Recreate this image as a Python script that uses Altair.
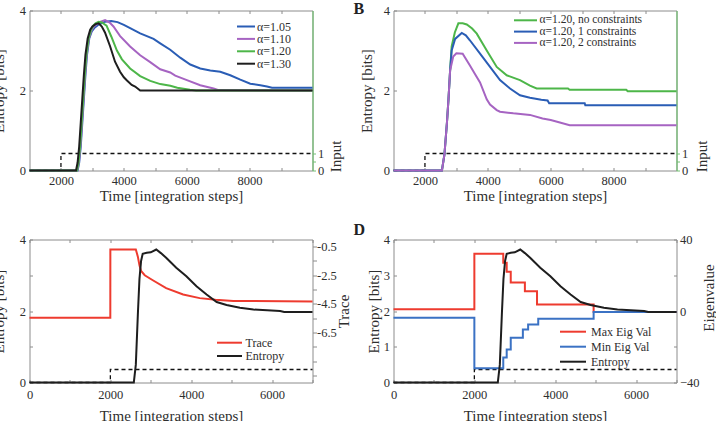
import altair as alt
import pandas as pd

FONT = "Liberation Serif"
TXT = "#2e2e2e"
FRAME = "#8c8c8c"
GREEN_AX = "#72c072"

W = 283
HT = 160
HB = 143

# ---------------- Panel A ----------------
A_names = ["α=1.05", "α=1.10", "α=1.20", "α=1.30"]
A_colors = ["#2a5db5", "#a664c2", "#4db649", "#1e1e1e"]
A_t_105 = [1000, 2530, 2580, 2630, 2680, 2730, 2780, 2830, 2900, 2980, 3060, 3200, 3400, 3600, 3800, 4000, 4200,
           4520, 4945, 5157, 5475, 5794, 6113, 6430, 6749, 7067, 7385, 7704, 8022, 8341, 8553, 8712, 10000]
A_e_105 = [0, 0, 0.2, 0.6, 1.2, 1.8, 2.4, 2.9, 3.3, 3.48, 3.56, 3.65, 3.72, 3.74, 3.71, 3.64, 3.56,
           3.43, 3.29, 3.18, 3.02, 2.82, 2.65, 2.55, 2.5, 2.47, 2.38, 2.27, 2.17, 2.13, 2.1, 2.07, 2.07]
A_t_110 = [1000, 2520, 2570, 2620, 2670, 2720, 2770, 2820, 2890, 2970, 3050, 3200, 3405, 3550, 3670, 3882, 4200,
           4520, 4838, 5157, 5475, 5635, 6006, 6430, 6855, 7014, 10000]
A_e_110 = [0, 0, 0.2, 0.6, 1.2, 1.8, 2.4, 2.9, 3.3, 3.5, 3.6, 3.7, 3.76, 3.7, 3.6, 3.36, 3.1,
           2.88, 2.71, 2.53, 2.45, 2.37, 2.26, 2.13, 2.05, 2.01, 2.0]
A_t_120 = [1000, 2510, 2560, 2610, 2660, 2710, 2760, 2810, 2880, 2960, 3030, 3100, 3200, 3300, 3450, 3600, 3780,
           3940, 4200, 4520, 4840, 5160, 5480, 5700, 6100, 6300, 10000]
A_e_120 = [0, 0, 0.2, 0.6, 1.2, 1.8, 2.4, 2.9, 3.3, 3.52, 3.62, 3.68, 3.72, 3.7, 3.62, 3.35, 3.0,
           2.78, 2.55, 2.36, 2.24, 2.16, 2.12, 2.07, 2.02, 2.0, 2.0]
A_t_130 = [1000, 2480, 2530, 2580, 2630, 2680, 2730, 2780, 2850, 2930, 3000, 3100, 3200, 3300, 3400, 3565, 3720,
           3880, 4000, 4100, 4250, 4360, 4520, 10000]
A_e_130 = [0, 0, 0.2, 0.6, 1.2, 1.8, 2.4, 2.9, 3.3, 3.52, 3.6, 3.66, 3.68, 3.6, 3.45, 3.1, 2.72,
           2.47, 2.33, 2.25, 2.14, 2.1, 2.0, 2.0]

# ---------------- Panel B ----------------
B_names = ["α=1.20, no constraints", "α=1.20, 1 constraints", "α=1.20, 2 constraints"]
B_colors = ["#4db649", "#2a5db5", "#a664c2"]
B_t_0 = [1000, 2540, 2620, 2700, 2750, 2800, 2850, 2950, 3063, 3200, 3330, 3500, 3648, 3965, 4283, 4600, 5022,
         5340, 5552, 6550, 6600, 8400, 8450, 10000]
B_e_0 = [0, 0, 0.4, 1.2, 1.8, 2.5, 3.1, 3.45, 3.68, 3.68, 3.65, 3.55, 3.42, 3.0, 2.59, 2.38, 2.26,
         2.12, 2.05, 2.05, 2.02, 2.02, 1.98, 1.98]
B_t_1 = [1000, 2540, 2620, 2700, 2750, 2800, 2850, 2959, 3171, 3300, 3435, 3752, 4070, 4387, 4705, 5022, 5340,
         5700, 5900, 5950, 7080, 7100, 10000]
B_e_1 = [0, 0, 0.4, 1.2, 1.8, 2.5, 3.0, 3.29, 3.44, 3.38, 3.25, 2.92, 2.59, 2.26, 2.05, 1.88, 1.82,
         1.77, 1.75, 1.68, 1.68, 1.63, 1.63]
B_t_2 = [1000, 2540, 2620, 2700, 2750, 2800, 2900, 3000, 3200, 3435, 3600, 3752, 3965, 4070, 4283, 4387, 4810,
         5340, 5740, 6000, 6290, 6603, 10000]
B_e_2 = [0, 0, 0.4, 1.2, 1.8, 2.5, 2.85, 2.93, 2.92, 2.62, 2.4, 2.2, 1.78, 1.65, 1.51, 1.47, 1.43,
         1.39, 1.3, 1.26, 1.2, 1.13, 1.13]

# input signal (panels A, B)
IN_AB_t = [1000, 2000, 10000]
IN_AB_v = [0, 1, 1]

# ---------------- Panels C and D ----------------
ENT_t = [0, 2580, 2630, 2680, 2720, 2760, 2800, 2900, 3000, 3135, 3250, 3380, 3630, 3880, 4130, 4380, 4630,
         4875, 5205, 5540, 6200, 6300, 7000]
ENT_e = [0, 0, 0.5, 1.9, 2.9, 3.4, 3.6, 3.63, 3.64, 3.72, 3.62, 3.49, 3.21, 2.97, 2.69, 2.46, 2.25,
         2.17, 2.09, 2.04, 2.0, 1.97, 1.97]
TR_t = [0, 1999, 2000, 2630, 2680, 2720, 2760, 2850, 3050, 3380, 3800, 4210, 4600, 5040, 7000]
TR_v = [-5.48, -5.48, -0.7, -0.7, -1.2, -1.8, -2.2, -2.5, -2.85, -3.4, -3.85, -4.1, -4.22, -4.3, -4.33]
IN_CD_t = [0, 2000, 7000]
IN_CD_v = [0, 1, 1]

EMAX_t = [0, 2000, 2715, 2800, 2900, 3250, 3550, 4950, 7000]
EMAX_v = [1, 32, 27, 22, 16, 11, 3.6, -0.5, -0.5]
EMIN_t = [0, 2000, 2715, 2800, 2900, 3200, 3330, 3580, 4950, 7000]
EMIN_v = [-3.8, -32, -26, -21.5, -15, -10.3, -7.5, -4.4, -0.5, -0.5]

C_names = ["Trace", "Entropy"]
C_colors = ["#ee3b2f", "#1e1e1e"]
D_names = ["Max Eig Val", "Min Eig Val", "Entropy"]
D_colors = ["#ee3b2f", "#3b72c4", "#1e1e1e"]

TICKS_AB = [2000, 3000, 4000, 5000, 6000, 7000, 8000, 9000]
TICKS_CD = [0, 1000, 2000, 3000, 4000, 5000, 6000, 7000]
TRACE_TICKS = [-0.5, -1.5, -2.5, -3.5, -4.5, -5.5, -6.5, -7.5, -8.5, -9.5]
TRACE_LABELS = [-0.5, -2.5, -4.5, -6.5]


def long_df(ts, vs, names):
    rows = []
    for t, v, n in zip(ts, vs, names):
        for i, (a, b) in enumerate(zip(t, v)):
            rows.append({"t": a, "v": b, "series": n, "i": i})
    return pd.DataFrame(rows)


def legend_layers(names, colors, x0, x1, xt, yc0, sp, fs):
    d = pd.DataFrame({"label": names, "row": list(range(len(names)))})
    ys = alt.Scale(domain=[0, 1], range=[yc0, yc0 + sp])
    rule = alt.Chart(d).mark_rule(strokeWidth=2).encode(
        x=alt.value(x0), x2=alt.value(x1),
        y=alt.Y("row:Q", scale=ys, axis=None),
        color=alt.Color("label:N", scale=alt.Scale(domain=names, range=colors), legend=None),
    )
    text = alt.Chart(d).mark_text(align="left", baseline="middle", font=FONT, fontSize=fs,
                                  color=TXT).encode(
        x=alt.value(xt), y=alt.Y("row:Q", scale=ys, axis=None), text="label:N",
    )
    return [rule, text]


def x_bottom(ticks, title_y, pad):
    return alt.Axis(values=ticks, format="d", labelExpr="datum.value % 2000 == 0 ? datum.label : ''",
                    offset=-3, tickSize=3, tickColor=FRAME, domain=False, grid=False, labelPadding=pad,
                    labelFlush=False, labelOverlap=False,
                    title="Time [integration steps]", titleX=W / 2, titleY=title_y, titleBaseline="middle")


def x_top(ticks):
    return alt.Axis(orient="top", values=ticks, labels=False, domain=False, grid=False, offset=-3,
                    tickSize=3, tickColor=FRAME, title=None)


def y_left(values, label_expr, title_x, H):
    return alt.Axis(values=values, labelExpr=label_expr, offset=-3, tickSize=3, tickColor=FRAME,
                    domain=False, grid=False, labelPadding=4, title="Entropy [bits]", titleAngle=270,
                    titleX=title_x, titleY=H / 2, titleBaseline="bottom", labelFlush=False)


def input_axis(title_x, title_y):
    return alt.Axis(orient="right", values=[0, 0.5, 1], format="~g",
                    labelExpr="datum.value == 0.5 ? '' : datum.label", tickSize=3, tickColor=GREEN_AX,
                    domainColor=GREEN_AX, domainWidth=1.2, grid=False, labelPadding=2, labelFlush=False,
                    title="Input", titleAngle=270, titleX=title_x, titleY=title_y, titleBaseline="middle")


def top_panel(ts, vs, names, colors, leg, title_x, in_title_x, domain_x):
    d = long_df(ts, vs, names)
    xs = alt.Scale(domain=domain_x, nice=False, zero=False)
    lines = alt.Chart(d).mark_line(strokeWidth=2).encode(
        x=alt.X("t:Q", scale=xs, axis=x_bottom(TICKS_AB, 28, 4)),
        y=alt.Y("v:Q", scale=alt.Scale(domain=[0, 4], nice=False),
                axis=y_left([0, 2, 4], "datum.label", title_x, HT)),
        color=alt.Color("series:N", scale=alt.Scale(domain=names, range=colors), legend=None),
        order="i:Q",
    )
    din = pd.DataFrame({"t": IN_AB_t, "v": IN_AB_v})
    inp = alt.Chart(din).mark_line(strokeWidth=1.3, strokeDash=[4, 3], color="#111",
                                   interpolate="step-after").encode(
        x=alt.X("t:Q", scale=xs, axis=x_top(TICKS_AB)),
        y=alt.Y("v:Q", scale=alt.Scale(domain=[0, 9.4], nice=False), axis=input_axis(in_title_x, 145.5)),
    )
    return alt.layer(inp, lines, *leg).resolve_scale(y="independent").resolve_axis(
        x="independent", y="independent")


chartA = top_panel([A_t_105, A_t_110, A_t_120, A_t_130], [A_e_105, A_e_110, A_e_120, A_e_130], A_names,
                   A_colors, legend_layers(A_names, A_colors, 207.5, 225.5, 227.5, 16, 12.4, 12),
                   -26, 23, [1000, 10000]).properties(width=W, height=HT)

chartB = top_panel([B_t_0, B_t_1, B_t_2], [B_e_0, B_e_1, B_e_2], B_names, B_colors,
                   legend_layers(B_names, B_colors, 120.5, 143.5, 146, 9.8, 11.3, 11.5),
                   -22, 25, [1000, 10000]).properties(
    width=W, height=HT,
    title=alt.TitleParams("B", anchor="start", frame="group", dx=-40, dy=25, offset=0, baseline="alphabetic",
                          fontSize=16, fontWeight="bold", font=FONT, color="#222"))

# ---------- panel C ----------
xsC = alt.Scale(domain=[0, 7000], nice=False, zero=False)
dent = pd.DataFrame({"t": ENT_t, "v": ENT_e, "series": "Entropy", "i": range(len(ENT_t))})
dtr = pd.DataFrame({"t": TR_t, "v": TR_v, "series": "Trace", "i": range(len(TR_t))})
dinC = pd.DataFrame({"t": IN_CD_t, "v": IN_CD_v})

entC = alt.Chart(dent).mark_line(strokeWidth=2).encode(
    x=alt.X("t:Q", scale=xsC, axis=x_bottom(TICKS_CD, 36, 6)),
    y=alt.Y("v:Q", scale=alt.Scale(domain=[0, 4], nice=False),
            axis=y_left([0, 1, 2, 3, 4], "datum.value % 2 == 0 ? datum.label : ''", -26, HB)),
    color=alt.Color("series:N", scale=alt.Scale(domain=C_names, range=C_colors), legend=None),
    order="i:Q",
)
trC = alt.Chart(dtr).mark_line(strokeWidth=2).encode(
    x=alt.X("t:Q", scale=xsC, axis=None),
    y=alt.Y("v:Q", scale=alt.Scale(domain=[-10, 0], nice=False),
            axis=alt.Axis(orient="right", values=TRACE_TICKS, format=".1f",
                          labelExpr="indexof(%s, datum.value) >= 0 ? replace(datum.label, '\u2212', '-') : ''"
                                    % str(TRACE_LABELS),
                          tickSize=4, tickColor=FRAME, domain=False, grid=False, labelPadding=0,
                          labelFlush=False, title="Trace", titleAngle=270, titleX=31, titleY=HB / 2,
                          titleBaseline="middle")),
    color=alt.Color("series:N", scale=alt.Scale(domain=C_names, range=C_colors), legend=None),
    order="i:Q",
)
inC = alt.Chart(dinC).mark_line(strokeWidth=1.3, strokeDash=[4, 3], color="#111",
                                interpolate="step-after").encode(
    x=alt.X("t:Q", scale=xsC, axis=x_top(TICKS_CD)),
    y=alt.Y("v:Q", scale=alt.Scale(domain=[0, 11], nice=False), axis=None),
)
chartC = alt.layer(inC, trC, entC,
                   *legend_layers(C_names, C_colors, 187.5, 212.5, 216, 103.2, 13.3, 12)).resolve_scale(
    y="independent").resolve_axis(x="independent", y="independent").properties(width=W, height=HB)

# ---------- panel D ----------
deig = long_df([EMAX_t, EMIN_t], [EMAX_v, EMIN_v], ["Max Eig Val", "Min Eig Val"])
dentD = pd.DataFrame({"t": ENT_t, "v": ENT_e, "series": "Entropy", "i": range(len(ENT_t))})

entD = alt.Chart(dentD).mark_line(strokeWidth=2).encode(
    x=alt.X("t:Q", scale=xsC, axis=x_bottom(TICKS_CD, 36, 6)),
    y=alt.Y("v:Q", scale=alt.Scale(domain=[0, 4], nice=False),
            axis=y_left([0, 1, 2, 3, 4], "datum.label", -15, HB)),
    color=alt.Color("series:N", scale=alt.Scale(domain=D_names, range=D_colors), legend=None),
    order="i:Q",
)
eigD = alt.Chart(deig).mark_line(strokeWidth=2, interpolate="step-after").encode(
    x=alt.X("t:Q", scale=xsC, axis=None),
    y=alt.Y("v:Q", scale=alt.Scale(domain=[-40, 40], nice=False),
            axis=alt.Axis(orient="right", values=[-40, -20, 0, 20, 40],
                          labelExpr="datum.value % 40 == 0 ? datum.label : ''", offset=-3, tickSize=3,
                          tickColor=FRAME, domain=False, grid=False, labelPadding=3, labelFlush=False,
                          title="Eigenvalue", titleAngle=270, titleX=35, titleY=58, titleBaseline="middle")),
    color=alt.Color("series:N", scale=alt.Scale(domain=D_names, range=D_colors), legend=None),
    order="i:Q",
)
inD = alt.Chart(dinC).mark_line(strokeWidth=1.3, strokeDash=[4, 3], color="#111",
                                interpolate="step-after").encode(
    x=alt.X("t:Q", scale=xsC, axis=x_top(TICKS_CD)),
    y=alt.Y("v:Q", scale=alt.Scale(domain=[0, 11], nice=False), axis=None),
)
chartD = alt.layer(inD, eigD, entD,
                   *legend_layers(D_names, D_colors, 166.5, 192.5, 197.5, 92.2, 15, 12)).resolve_scale(
    y="independent").resolve_axis(x="independent", y="independent").properties(
    width=W, height=HB,
    title=alt.TitleParams("D", anchor="start", frame="group", dx=-40, dy=17.5, offset=0, baseline="alphabetic",
                          fontSize=16, fontWeight="bold", font=FONT, color="#222"))

chart = alt.concat(chartA, chartB, chartC, chartD, columns=2,
                   spacing={"row": 69, "column": 81}, bounds="flush").resolve_scale(
    color="independent").properties(
    autosize=alt.AutoSizeParams(type="none"),
    padding={"left": 29.5, "top": 10.5, "right": 716 - 29.5, "bottom": 421 - 10.5},
).configure_axis(
    labelFont=FONT, titleFont=FONT, labelFontSize=12.5, titleFontSize=15, labelColor=TXT, titleColor=TXT,
    titleFontWeight="normal",
).configure_view(stroke=FRAME, strokeWidth=1)

chart.save("out.html", embed_options={"renderer": "svg", "actions": False})
